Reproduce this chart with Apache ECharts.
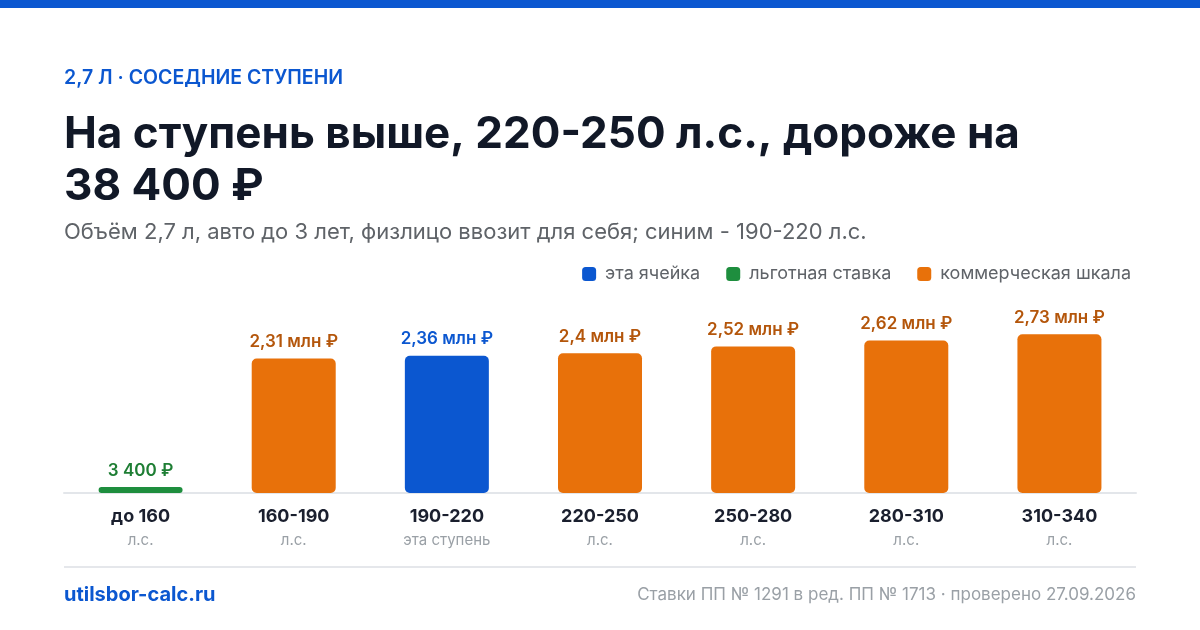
<!DOCTYPE html>
<html>
<head>
<meta charset="utf-8">
<script src="https://cdn.jsdelivr.net/npm/echarts@6/dist/echarts.min.js"></script>
<style>
  html, body { margin: 0; padding: 0; background: #fff; }
  #chart { width: 1200px; height: 630px; }
</style>
</head>
<body>
<div id="chart"></div>
<script>
// ступени мощности
var categories = ['до 160', '160-190', '190-220', '220-250', '250-280', '280-310', '310-340'];
var subLabels = ['л.с.', 'л.с.', 'эта ступень', 'л.с.', 'л.с.', 'л.с.', 'л.с.'];
// утильсбор, руб.
var values = [3400, 2310000, 2360000, 2400000, 2520000, 2620000, 2730000];
// тип ставки для каждой ступени
var kinds = ['green', 'orange', 'blue', 'orange', 'orange', 'orange', 'orange'];

var seriesNames = { blue: 'эта ячейка', green: 'льготная ставка', orange: 'коммерческая шкала' };
var barColors = { blue: '#0b57d0', green: '#1e8e3e', orange: '#e8710a' };
var labelColors = { blue: '#0b57d0', green: '#1e7e34', orange: '#b4560b' };

var FONT = 'Inter, "Noto Sans", sans-serif';

function fmtRub(v) {
    if (v >= 1000000) {
        var m = Math.round(v / 10000) / 100;
        return String(m).replace('.', ',') + ' млн ₽';
    }
    return String(v).replace(/\B(?=(\d{3})+(?!\d))/g, ' ') + ' ₽';
}

function buildSeries(kind) {
    var data = [];
    for (var i = 0; i < values.length; i++) {
        data.push(kinds[i] == kind ? values[i] : null);
    }
    return {
        name: seriesNames[kind],
        type: 'bar',
        stack: 'all',
        barWidth: 84,
        barMinHeight: 6,
        itemStyle: { color: barColors[kind], borderRadius: kind == 'green' ? 3 : 5 },
        label: {
            show: true,
            position: 'top',
            distance: 8,
            color: labelColors[kind],
            fontFamily: FONT,
            fontWeight: 600,
            fontSize: 17,
            formatter: function (p) { return fmtRub(p.value); }
        },
        data: data
    };
}

var myChart = echarts.init(document.getElementById('chart'), null, { renderer: 'canvas' });

var option = {
    backgroundColor: '#ffffff',
    animation: false,
    textStyle: { fontFamily: FONT },
    legend: {
        data: ['эта ячейка', 'льготная ставка', 'коммерческая шкала'],
        right: 64,
        top: 260,
        icon: 'roundRect',
        itemWidth: 14,
        itemHeight: 14,
        itemGap: 26,
        textStyle: { color: '#5f6368', fontSize: 18, fontFamily: FONT, padding: [0, 0, 0, 4] }
    },
    grid: { left: 64, right: 64, top: 301, bottom: 137, containLabel: false },
    xAxis: {
        type: 'category',
        data: categories,
        axisTick: { show: false },
        axisLine: { lineStyle: { color: '#e3e6ea', width: 2 } },
        axisLabel: {
            margin: 12,
            formatter: function (v, i) {
                return '{main|' + v + '}\n{sub|' + subLabels[i] + '}';
            },
            rich: {
                main: { fontSize: 18, fontWeight: 'bold', color: '#1a1f2e', fontFamily: FONT, lineHeight: 24 },
                sub: { fontSize: 15, color: '#9aa0a6', fontFamily: FONT, lineHeight: 22 }
            }
        }
    },
    yAxis: {
        type: 'value',
        min: 0,
        max: 3300000,
        show: false,
        splitLine: { show: false }
    },
    series: [buildSeries('blue'), buildSeries('green'), buildSeries('orange')],
    graphic: [
        { type: 'rect', shape: { x: 0, y: 0, width: 1200, height: 8 }, style: { fill: '#0b57d0' } },
        { type: 'text', style: { x: 64, y: 78, text: '2,7 Л · СОСЕДНИЕ СТУПЕНИ', fill: '#0b57d0',
            font: '600 19.5px ' + FONT, textVerticalAlign: 'middle' } },
        { type: 'text', style: { x: 64, y: 109, text: 'На ступень выше, 220-250 л.с., дороже на\n38 400 ₽',
            fill: '#111827', font: 'bold 44px ' + FONT, lineHeight: 52, textVerticalAlign: 'top' } },
        { type: 'text', style: { x: 64, y: 232, text: 'Объём 2,7 л, авто до 3 лет, физлицо ввозит для себя; синим - 190-220 л.с.',
            fill: '#5f6368', font: '22px ' + FONT, textVerticalAlign: 'middle' } },
        { type: 'line', shape: { x1: 64, y1: 567, x2: 1136, y2: 567 }, style: { stroke: '#e5e7eb', lineWidth: 2 } },
        { type: 'text', style: { x: 64, y: 595, text: 'utilsbor-calc.ru', fill: '#0b57d0',
            font: 'bold 20px ' + FONT, textVerticalAlign: 'middle' } },
        { type: 'text', style: { x: 1136, y: 595, text: 'Ставки ПП № 1291 в ред. ПП № 1713 · проверено 27.09.2026',
            fill: '#9aa0a6', font: '17px ' + FONT, textAlign: 'right', textVerticalAlign: 'middle' } }
    ]
};

myChart.setOption(option);
</script>
</body>
</html>
